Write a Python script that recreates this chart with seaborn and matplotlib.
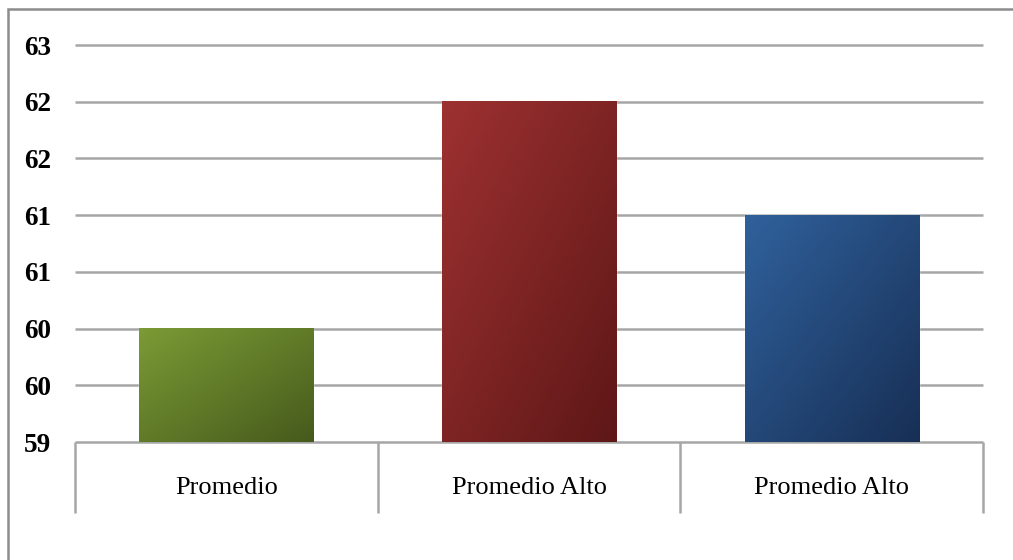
import numpy as np
import pandas as pd
import matplotlib
matplotlib.use("Agg")
import matplotlib.pyplot as plt
import seaborn as sns
from matplotlib.patches import Rectangle
from matplotlib.colors import LinearSegmentedColormap
import matplotlib.transforms as mtransforms

# ---- data ----
categories = ["Promedio", "Promedio Alto", "Promedio Alto "]
category_labels = ["Promedio", "Promedio Alto", "Promedio Alto"]
values = [60.0, 62.0, 61.0]
ytick_values = [59.0, 59.5, 60.0, 60.5, 61.0, 61.5, 62.0, 62.5]
ytick_labels = ["59", "60", "60", "61", "61", "62", "62", "63"]
grad_light = ["#7b9b35", "#9e3131", "#30619c"]
grad_dark = ["#465a1c", "#5e1717", "#172f55"]

sns.set_theme(style="white")
plt.rcParams["font.family"] = ["Liberation Serif", "DejaVu Serif"]

W, H = 1013, 560
fig = plt.figure(figsize=(W / 100, H / 100), dpi=100)
ax = fig.add_axes([75 / W, (H - 442) / H, (983 - 75) / W, (442 - 45) / H])

df = pd.DataFrame({"cat": categories, "val": values})
mid = [tuple((np.array(matplotlib.colors.to_rgb(a)) + np.array(matplotlib.colors.to_rgb(b))) / 2)
       for a, b in zip(grad_light, grad_dark)]
sns.barplot(data=df, x="cat", y="val", hue="cat", palette=mid, legend=False,
            width=0.575, ax=ax, zorder=3, saturation=1)

ymin, ymax = ytick_values[0], ytick_values[-1]
ax.set_ylim(ymin, ymax)
ax.set_xlim(-0.5, len(categories) - 0.5)

# gradients on bars (visible part only)
for patch, c0, c1 in zip(ax.patches, grad_light, grad_dark):
    x0, y0 = patch.get_x(), patch.get_y()
    w, h = patch.get_width(), patch.get_height()
    yb = max(y0, ymin)
    yt = y0 + h
    n = 200
    xx, yy = np.meshgrid(np.linspace(0, 1, n), np.linspace(0, 1, n))
    t = (xx + (1 - yy)) / 2  # 0 top-left, 1 bottom-right
    cmap = LinearSegmentedColormap.from_list("g", [c0, c1])
    ax.imshow(t, cmap=cmap, extent=[x0, x0 + w, yb, yt], origin="lower",
              aspect="auto", zorder=4, vmin=0, vmax=1)
ax.set_xlim(-0.5, len(categories) - 0.5)
ax.set_ylim(ymin, ymax)

# grid
ax.set_yticks(ytick_values)
ax.set_yticklabels(ytick_labels, fontsize=19.5, fontweight="bold", color="black")
for yv in ytick_values:
    ax.axhline(yv, color="#a6a6a6", lw=1.8, zorder=2, clip_on=False,
               solid_capstyle="butt")
ax.tick_params(axis="y", length=0, pad=17)
ax.tick_params(axis="x", length=0, pad=25)
ax.set_xticks(range(len(categories)))
ax.set_xticklabels(category_labels, fontsize=19, color="black")
ax.set_xlabel("")
ax.set_ylabel("")
for s in ax.spines.values():
    s.set_visible(False)
ax.grid(False)

# category separators below axis
trans = mtransforms.blended_transform_factory(ax.transData, ax.transAxes)
depth = (513 - 442) / (442 - 45)
for xv in np.arange(-0.5, len(categories), 1.0):
    ax.plot([xv, xv], [0, -depth], transform=trans, color="#a6a6a6", lw=1.8,
            clip_on=False, zorder=2, solid_capstyle="butt")

# outer chart border
fig.patches.append(Rectangle((8 / W, -0.1), 1.2, (H - 9) / H + 0.1,
                             transform=fig.transFigure, fill=False,
                             edgecolor="#8c8c8c", lw=1.8))

fig.savefig("out.png", dpi=100)
